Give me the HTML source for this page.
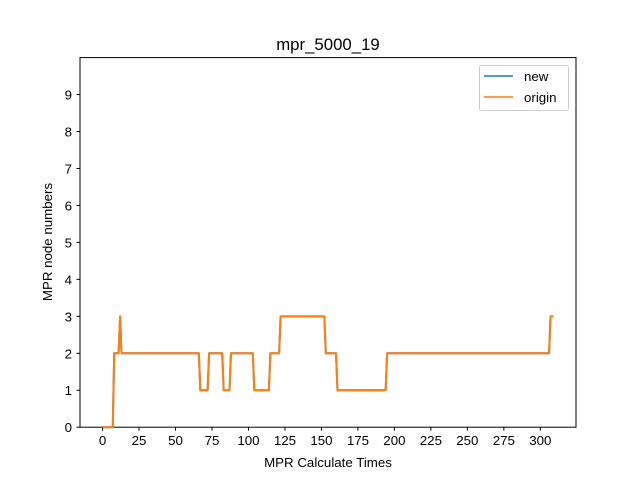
<!DOCTYPE html>
<html><head><meta charset="utf-8"><style>
body{margin:0;background:#fff;}
svg text{font-family:"Liberation Sans","DejaVu Sans",sans-serif;fill:#000;}
</style></head><body>
<svg id="chart" width="640" height="480" xmlns="http://www.w3.org/2000/svg">
<rect width="640" height="480" fill="#fff"/>
<text x="328" y="50" font-size="16.8" text-anchor="middle">mpr_5000_19</text>
<g id="ticks"></g>
<rect x="80" y="57.6" width="496" height="369.6" fill="none" stroke="#000" stroke-width="1"/>
<g id="series"></g>
<text x="328" y="467" font-size="13.3" text-anchor="middle">MPR Calculate Times</text>
<text x="0" y="0" font-size="13.3" text-anchor="middle" transform="translate(52,242) rotate(-90)">MPR node numbers</text>
<g>
<rect x="479.5" y="65.5" width="89" height="45" rx="2" fill="#fff" stroke="#ccc"/>
<line x1="484" y1="76" x2="513" y2="76" stroke="#1f77b4" stroke-width="1.5"/>
<text x="524" y="81" font-size="13.3">new</text>
<line x1="484" y1="97" x2="513" y2="97" stroke="#ff7f0e" stroke-width="1.5"/>
<text x="524" y="102" font-size="13.3">origin</text>
</g>
</svg>
<script>
const xTicks=[0,25,50,75,100,125,150,175,200,225,250,275,300];
const yTicks=[0,1,2,3,4,5,6,7,8,9];
const seriesX=[0,7,8,11,12,13,66,67,72,73,82,83,87,88,103,104,114,115,121,122,152,153,160,161,194,195,306,307,309];
const seriesNew=[0,0,2,2,3,2,2,1,1,2,2,1,1,2,2,1,1,2,2,3,3,2,2,1,1,2,2,3,3];
const seriesOrigin=[0,0,2,2,3,2,2,1,1,2,2,1,1,2,2,1,1,2,2,3,3,2,2,1,1,2,2,3,3];
const NS="http://www.w3.org/2000/svg";
const xMin=-15.45,xMax=324.45,yMin=0,yMax=10;
function sx(v){return 80+(v-xMin)/(xMax-xMin)*496;}
function sy(v){return 427.2-(v-yMin)/(yMax-yMin)*369.6;}
const tg=document.getElementById('ticks');
xTicks.forEach(t=>{
  const l=document.createElementNS(NS,'line');
  l.setAttribute('x1',sx(t));l.setAttribute('x2',sx(t));l.setAttribute('y1',427.2);l.setAttribute('y2',430.7);l.setAttribute('stroke','#000');
  
  
  tg.appendChild(l);
  const tx=document.createElementNS(NS,'text');
  tx.setAttribute('x',sx(t));tx.setAttribute('y',445);tx.setAttribute('font-size','13.3');tx.setAttribute('text-anchor','middle');
  tx.textContent=t;
  
  
  tg.appendChild(tx);
});
yTicks.forEach(t=>{
  const l=document.createElementNS(NS,'line');
  l.setAttribute('x1',76.5);l.setAttribute('x2',80);l.setAttribute('y1',sy(t));l.setAttribute('y2',sy(t));l.setAttribute('stroke','#000');
  
  
  tg.appendChild(l);
  const tx=document.createElementNS(NS,'text');
  tx.setAttribute('x',72);tx.setAttribute('y',sy(t)+5);tx.setAttribute('font-size','13.3');tx.setAttribute('text-anchor','end');
  tx.textContent=t;
  
  
  tg.appendChild(tx);
});
const sg=document.getElementById('series');
function draw(vals,color,name){
  const p=document.createElementNS(NS,'polyline');
  p.setAttribute('points',seriesX.map((x,i)=>sx(x)+','+sy(vals[i])).join(' '));
  p.setAttribute('fill','none');p.setAttribute('stroke',color);p.setAttribute('stroke-width','2');p.setAttribute('stroke-linejoin','round');
  
  
  sg.appendChild(p);
}
draw(seriesNew,'#1f77b4','line-new');
draw(seriesOrigin,'#ff7f0e','line-origin');
</script>
</body></html>
